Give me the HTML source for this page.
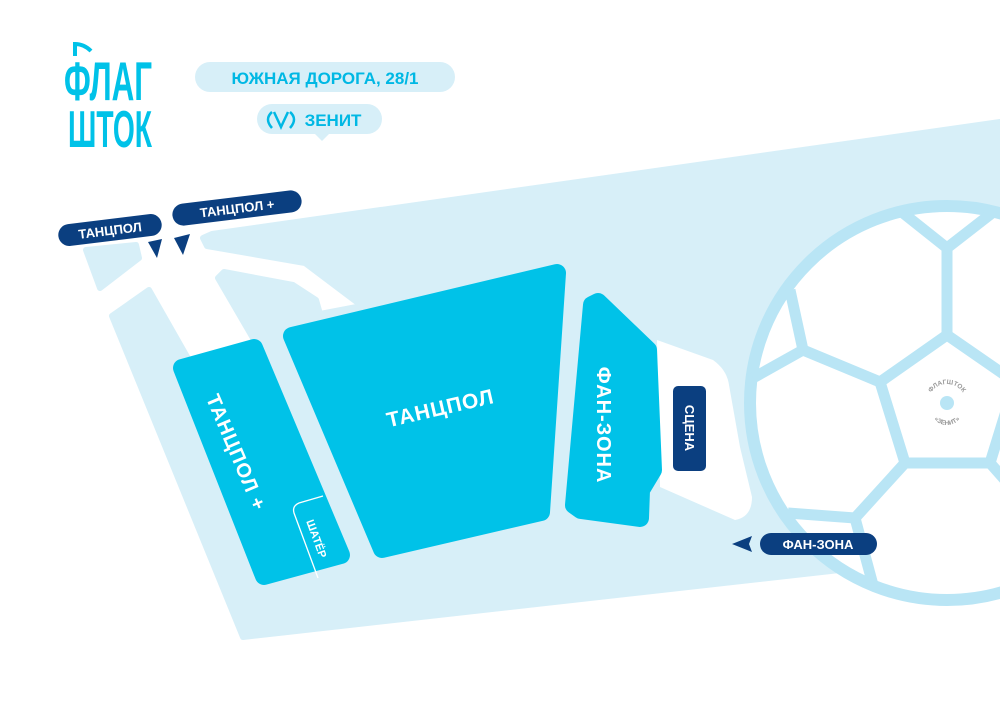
<!DOCTYPE html>
<html><head><meta charset="utf-8"><style>
html,body{margin:0;padding:0;background:#fff;}
svg{display:block;}
text{font-family:"Liberation Sans","DejaVu Sans",sans-serif;font-weight:bold;}
</style></head><body>
<svg width="1000" height="707" viewBox="0 0 1000 707" xmlns="http://www.w3.org/2000/svg">
<rect width="1000" height="707" fill="#fff"/>
<g fill="#d7eff8" stroke="#d7eff8" stroke-width="6" stroke-linejoin="round">
<polygon points="86,250 136,245 139,258 100,288"/>
<polygon points="112,316 149,290 190,362 257,345 218,278 224,272 293,285 316,300 320,314 362,306 305,263 207,246 203,238 212,234 1000,122 1000,552 243,637"/>
</g>
<path d="M657,340 L713,360 Q727,370 729,385 L740,447 L752,497 Q752,517 735,520 L660,487 Z" fill="#fff"/>
<circle cx="947" cy="403" r="197" fill="#fff" stroke="#b9e5f5" stroke-width="12"/>
<g stroke="#b9e5f5" stroke-width="11" fill="none" stroke-linejoin="round">
<polygon points="947,335 880,382 905,463 990,463 1015,382"/>
<polyline points="947,335 947,248"/>
<polyline points="903,213 947,248 992,213"/>
<polyline points="880,382 803,350 790,290"/>
<polyline points="803,350 753,378"/>
<polyline points="905,463 855,518 788,513"/>
<polyline points="855,518 873,585"/>
<polyline points="990,463 1005,480"/>
<polyline points="1015,382 1005,370"/>
</g>
<circle cx="947" cy="403" r="7" fill="#b9e5f5"/>
<defs>
<path id="arcT" d="M928,403 A19,19 0 0 1 966,403"/>
<path id="arcB" d="M930,408 A17,17 0 0 0 964,408"/>
</defs>
<text font-size="6.5" fill="#999" font-weight="normal" text-anchor="middle"><textPath href="#arcT" startOffset="50%">ФЛАГШТОК</textPath></text>
<text font-size="6.5" fill="#999" font-weight="normal" text-anchor="middle"><textPath href="#arcB" startOffset="50%">«ЗЕНИТ»</textPath></text>
<g fill="#00c2e8" stroke="#00c2e8" stroke-width="18" stroke-linejoin="round">
<polygon points="182,368 254,348 341,555 264,576"/>
<polygon points="292,336 557,273 541,512 382,549"/>
<polygon points="598,302 648,350 653,470 641,490 640,518 581,510 574,505 592,305"/>
</g>
<path d="M323,496 L299,503 Q292,506 294,513 L318,578" stroke="#fff" stroke-width="1.3" fill="none"/>
<text font-size="21" fill="#fff" text-anchor="middle" transform="translate(442,415) rotate(-13)" letter-spacing="1">ТАНЦПОЛ</text>
<text font-size="20" fill="#fff" text-anchor="middle" transform="translate(230,455) rotate(67)" letter-spacing="1">ТАНЦПОЛ +</text>
<text font-size="11" fill="#fff" text-anchor="middle" transform="translate(313,540) rotate(70)">ШАТЁР</text>
<text font-size="20" fill="#fff" text-anchor="middle" transform="translate(597,425) rotate(90)" letter-spacing="1">ФАН-ЗОНА</text>
<rect x="673" y="386" width="33" height="85" rx="5" fill="#0b3f80"/>
<text font-size="13" fill="#fff" text-anchor="middle" transform="translate(685,428) rotate(90)">СЦЕНА</text>
<rect x="760" y="533" width="117" height="22" rx="11" fill="#0b3f80"/>
<text x="818" y="549" font-size="13" fill="#fff" text-anchor="middle">ФАН-ЗОНА</text>
<polygon points="732,544 752,536 749,544 752,552" fill="#0b3f80"/>
<g transform="translate(110,230) rotate(-7)">
<rect x="-52" y="-11" width="104" height="22" rx="11" fill="#0b3f80"/>
<text x="0" y="5" font-size="13" fill="#fff" text-anchor="middle">ТАНЦПОЛ</text>
</g>
<g transform="translate(237,208) rotate(-7)">
<rect x="-65" y="-11" width="130" height="22" rx="11" fill="#0b3f80"/>
<text x="0" y="5" font-size="13" fill="#fff" text-anchor="middle">ТАНЦПОЛ +</text>
</g>
<polygon points="148,242 162,239 157,258" fill="#0b3f80"/>
<polygon points="174,238 190,234 183,255" fill="#0b3f80"/>
<rect x="195" y="62" width="260" height="30" rx="15" fill="#d7eff8"/>
<text x="325" y="84" font-size="17" fill="#00b8e4" text-anchor="middle">ЮЖНАЯ ДОРОГА, 28/1</text>
<rect x="257" y="104" width="125" height="30" rx="15" fill="#d7eff8"/>
<polygon points="314,133 330,133 322,141" fill="#d7eff8"/>
<text x="333" y="126" font-size="17" fill="#00b8e4" text-anchor="middle">ЗЕНИТ</text>
<path d="M272,112 Q264,119 272,128 M290,112 Q298,119 290,128 M274,112 L281,127 L288,112" stroke="#00b8e4" stroke-width="2.5" fill="none"/>
<text x="64" y="100" font-size="55" fill="#00c2e8" textLength="88" lengthAdjust="spacingAndGlyphs" font-weight="normal">ФЛАГ</text>
<text x="68" y="147" font-size="52" fill="#00c2e8" textLength="84" lengthAdjust="spacingAndGlyphs" font-weight="normal">ШТОК</text>
<path d="M75,56 L75,44 Q84,44 91,51" stroke="#00c2e8" stroke-width="4" fill="none"/>
</svg>
</body></html>
